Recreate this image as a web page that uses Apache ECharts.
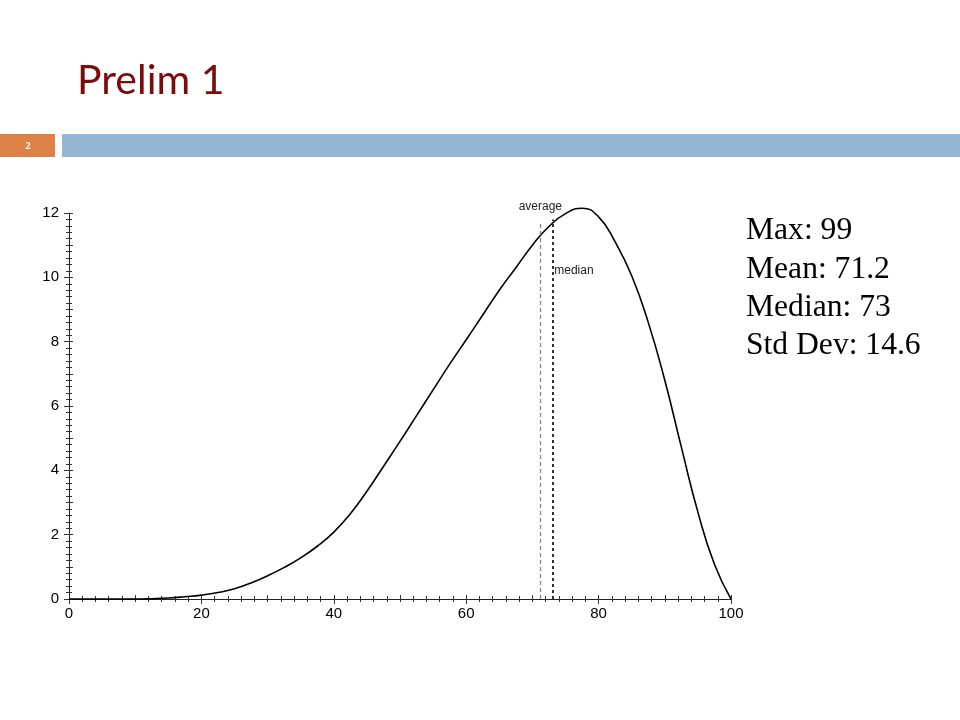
<!DOCTYPE html>
<html>
<head>
<meta charset="utf-8">
<script src="https://cdn.jsdelivr.net/npm/echarts@6/dist/echarts.min.js"></script>
<style>html,body{margin:0;padding:0;background:#fff}#c{width:960px;height:720px}</style>
</head>
<body>
<div id="c"></div>
<script>
var titleText = 'Prelim 1';
var slideNumber = '2';
var statLines = ['Max: 99', 'Mean: 71.2', 'Median: 73', 'Std Dev: 14.6'];
var scores = [0, 2.5, 5, 7.5, 10, 12.5, 15, 17.5, 20, 22.5, 25, 27.5, 30, 32.5, 35, 37.5, 40, 42.5, 45, 47.5, 50, 52.5, 55, 57.5, 60, 62.5, 65, 67.5, 70, 72.5, 75, 77.5, 80, 82.5, 85, 87.5, 90, 92.5, 95, 97.5, 100];
var density = [0, 0, 0, 0, 0, 0.01, 0.03, 0.07, 0.12, 0.2, 0.32, 0.5, 0.72, 0.98, 1.28, 1.64, 2.08, 2.65, 3.35, 4.12, 4.9, 5.7, 6.5, 7.3, 8.06, 8.83, 9.6, 10.3, 11.0, 11.58, 11.98, 12.15, 11.88, 11.1, 10.05, 8.6, 6.8, 4.72, 2.7, 1.08, 0];
var meanValue = 71.2;
var medianValue = 73;
var meanLineTop = 11.7;
var medianLineTop = 11.8;
var medianLabelY = 10.2;

var chart = echarts.init(document.getElementById('c'), null, {renderer: 'canvas'});
var tickColor = '#333';
var option = {
  animation: false,
  backgroundColor: '#fff',
  grid: {left: 69, right: 229, top: 213, bottom: 121, containLabel: false},
  xAxis: [{
    type: 'value', min: 0, max: 100, interval: 20,
    axisLine: {show: true, lineStyle: {color: '#222', width: 1}},
    axisTick: {show: true, length: 5, lineStyle: {color: tickColor}},
    minorTick: {show: true, splitNumber: 10, length: 3, lineStyle: {color: tickColor}},
    axisLabel: {color: '#000', fontFamily: 'Liberation Sans', fontSize: 15, margin: 7},
    splitLine: {show: false}
  }, {
    type: 'value', min: 0, max: 100, interval: 10, position: 'bottom',
    axisLine: {show: false},
    axisTick: {show: true, inside: true, length: 4, lineStyle: {color: tickColor}},
    minorTick: {show: true, splitNumber: 5, length: 3, lineStyle: {color: tickColor}},
    axisLabel: {show: false}, splitLine: {show: false}
  }],
  yAxis: [{
    type: 'value', min: 0, max: 12, interval: 2,
    axisLine: {show: true, lineStyle: {color: '#222', width: 1}},
    axisTick: {show: true, length: 5, lineStyle: {color: tickColor}},
    minorTick: {show: true, splitNumber: 10, length: 3, lineStyle: {color: tickColor}},
    axisLabel: {color: '#000', fontFamily: 'Liberation Sans', fontSize: 15, margin: 10},
    splitLine: {show: false}
  }, {
    type: 'value', min: 0, max: 12, interval: 1, position: 'left',
    axisLine: {show: false},
    axisTick: {show: true, inside: true, length: 4, lineStyle: {color: tickColor}},
    minorTick: {show: true, splitNumber: 5, length: 3, lineStyle: {color: tickColor}},
    axisLabel: {show: false}, splitLine: {show: false}
  }],
  series: [{
    type: 'line',
    xAxisIndex: 0, yAxisIndex: 0,
    data: scores.map(function (s, i) { return [s, density[i]]; }),
    smooth: 0.5,
    clip: false,
    showSymbol: false,
    lineStyle: {color: '#000', width: 1.6},
    markLine: {
      symbol: ['none', 'none'],
      silent: true,
      data: [
        [{coord: [meanValue, 0], lineStyle: {color: '#888', type: [4, 3], width: 1.3},
          label: {show: true, position: 'end', formatter: 'average', color: '#222', fontSize: 12, fontFamily: 'Liberation Sans', distance: 10}},
         {coord: [meanValue, meanLineTop]}],
        [{coord: [medianValue, 0], lineStyle: {color: '#000', type: [3, 3], width: 1.6},
          label: {show: false}},
         {coord: [medianValue, medianLineTop]}]
      ]
    },
    markPoint: {
      symbol: 'circle', symbolSize: 0, silent: true,
      data: [{coord: [medianValue, medianLabelY],
        label: {show: true, position: 'right', distance: 2, formatter: 'median', color: '#222', fontSize: 12, fontFamily: 'Liberation Sans'}}]
    }
  }],
  graphic: [
    {type: 'text', left: 77, top: 60, style: {text: titleText, fill: '#7A0C0C', font: '41px "Lato", sans-serif'}},
    {type: 'rect', shape: {x: 0, y: 134, width: 55, height: 23}, style: {fill: '#DE8148'}},
    {type: 'text', style: {text: slideNumber, x: 28, y: 146, fill: '#fff', font: 'bold 11px "Liberation Serif", serif', textAlign: 'center', textVerticalAlign: 'middle'}},
    {type: 'rect', shape: {x: 62, y: 134, width: 898, height: 23}, style: {fill: '#95B5D3'}},
    {type: 'text', style: {text: statLines.join('\n'), x: 746, y: 212, fill: '#000', font: '31.6px "Liberation Serif", serif', lineHeight: 38.3}}
  ]
};
chart.setOption(option);
</script>
</body>
</html>
